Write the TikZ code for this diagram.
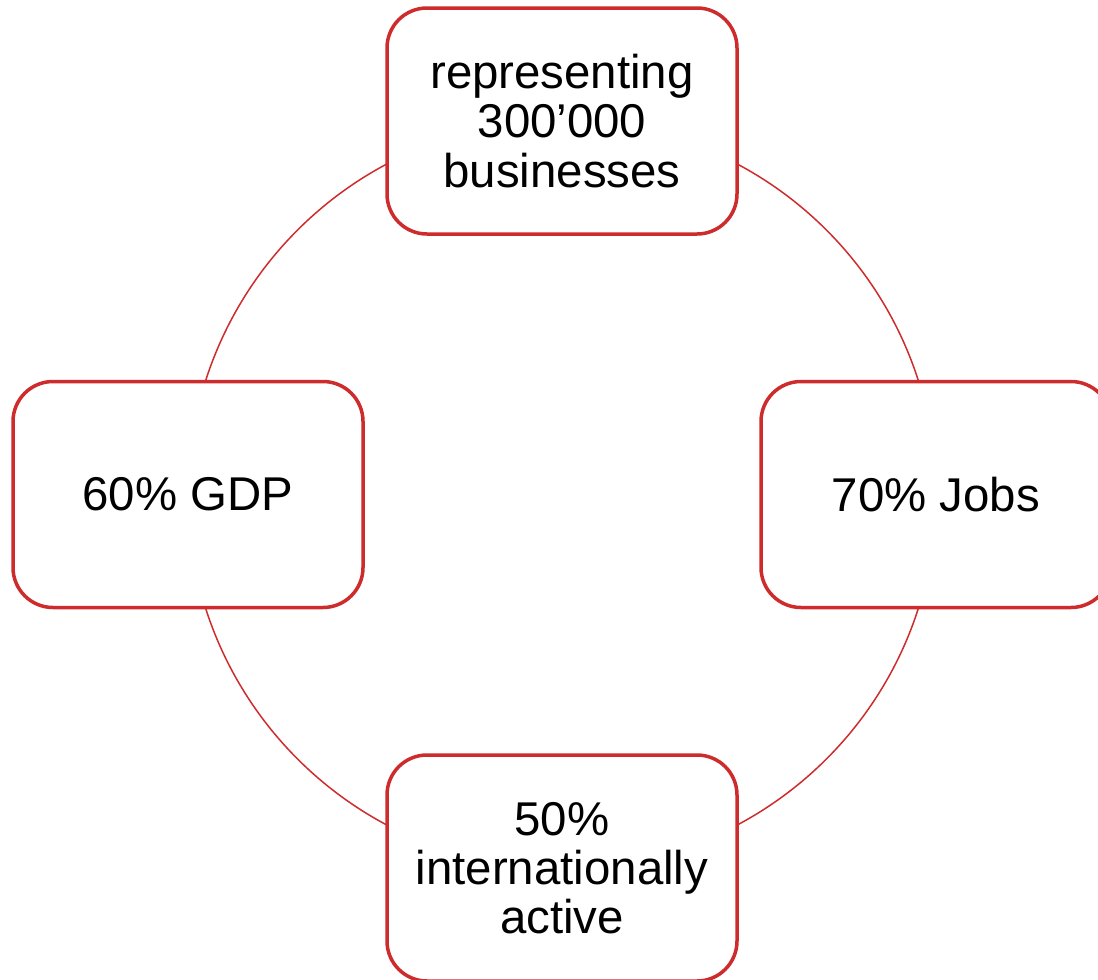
\documentclass[tikz,border=0pt]{standalone}
\usepackage{fontspec}
\setmainfont{Liberation Sans}
\definecolor{boxred}{RGB}{206,44,44}
\begin{document}
\begin{tikzpicture}[x=0.5pt,y=-0.5pt,
  itembox/.style={draw=boxred, line width=1.75pt, fill=white, rounded corners=20pt,
    minimum width=175pt, minimum height=113pt, align=center, inner sep=0pt,
    font=\fontsize{23.7pt}{24.6pt}\selectfont},
  ring/.style={draw=boxred, line width=0.75pt}]
\useasboundingbox (0,0) rectangle (1098,980);
\clip (0,0) rectangle (1098,980);
\coordinate (c) at (562,494.5);
\draw[ring] (c) circle[radius=187pt];
\node[itembox] (top) at (562,121) {representing\\300’000\\businesses};
\node[itembox] (right) at (936,494.5) {70\% Jobs};
\node[itembox] (bottom) at (562,868) {50\%\\internationally\\active};
\node[itembox] (left) at (188,494.5) {60\% GDP};
\end{tikzpicture}
\end{document}
